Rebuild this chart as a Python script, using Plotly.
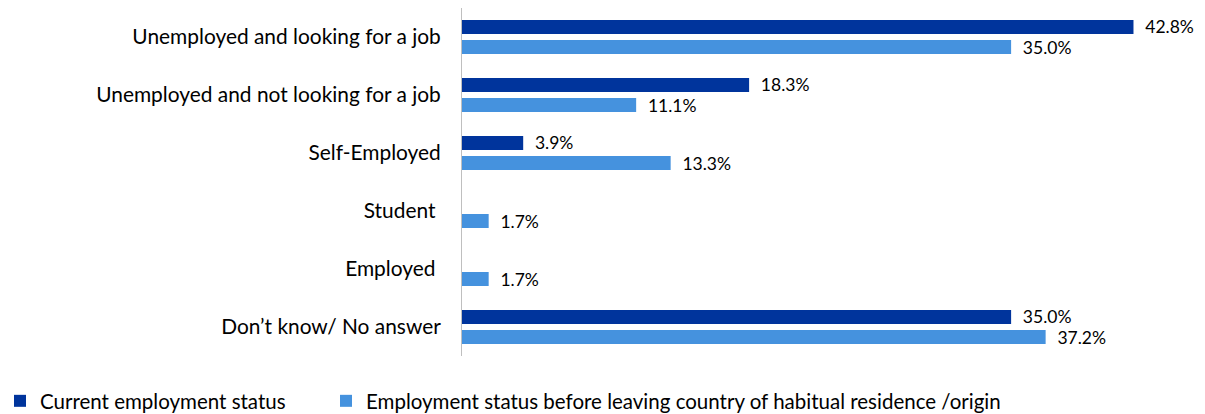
import plotly.graph_objects as go

categories = [
    "Unemployed and looking for a job",
    "Unemployed and not looking for a job",
    "Self-Employed",
    "Student\u00a0",
    "Employed\u00a0",
    "Don\u2019t know/ No answer",
]
current_status = [42.8, 18.3, 3.9, None, None, 35.0]
before_leaving = [35.0, 11.1, 13.3, 1.7, 1.7, 37.2]

series_names = [
    "Current employment status",
    "Employment status before leaving country of habitual residence /origin",
]
series_colors = ["#00349C", "#4592DE"]
legend_ids = ["legend", "legend2"]

FONT = "Lato"
W, H = 1205, 414


def labels(values):
    return ["" if v is None else "\u2002" + f"{v:.1f}%" for v in values]


fig = go.Figure()
for name, vals, color, lg in zip(series_names, [current_status, before_leaving], series_colors, legend_ids):
    fig.add_trace(
        go.Bar(
            name=name,
            y=categories,
            x=vals,
            orientation="h",
            marker=dict(color=color, line=dict(width=0)),
            text=labels(vals),
            textposition="outside",
            constraintext="none",
            outsidetextfont=dict(family=FONT, size=17.5, color="#000000"),
            cliponaxis=False,
            hoverinfo="skip",
            legend=lg,
        )
    )

legend_common = dict(
    orientation="h",
    xref="container",
    yref="container",
    xanchor="left",
    yanchor="middle",
    y=13 / H,
    borderwidth=0,
    bgcolor="rgba(0,0,0,0)",
    font=dict(family=FONT, size=20.5, color="#000000"),
)

fig.update_layout(
    width=W,
    height=H,
    margin=dict(l=462, r=37, t=8, b=58, autoexpand=False),
    paper_bgcolor="white",
    plot_bgcolor="white",
    barmode="group",
    bargap=0.31,
    bargroupgap=0.3,
    font=dict(family=FONT, size=20.9, color="#000000"),
    showlegend=True,
    legend=dict(x=0, **legend_common),
    legend2=dict(x=326 / W, **legend_common),
    xaxis=dict(
        range=[0, 45],
        showgrid=False,
        zeroline=False,
        showline=False,
        showticklabels=False,
        ticks="",
    ),
    yaxis=dict(
        autorange="reversed",
        showgrid=False,
        zeroline=False,
        showline=True,
        linecolor="#BFBFBF",
        linewidth=1,
        ticks="",
        ticklabelstandoff=16,
        tickfont=dict(family=FONT, size=20.9, color="#000000"),
    ),
)

fig.write_html("out.html")
